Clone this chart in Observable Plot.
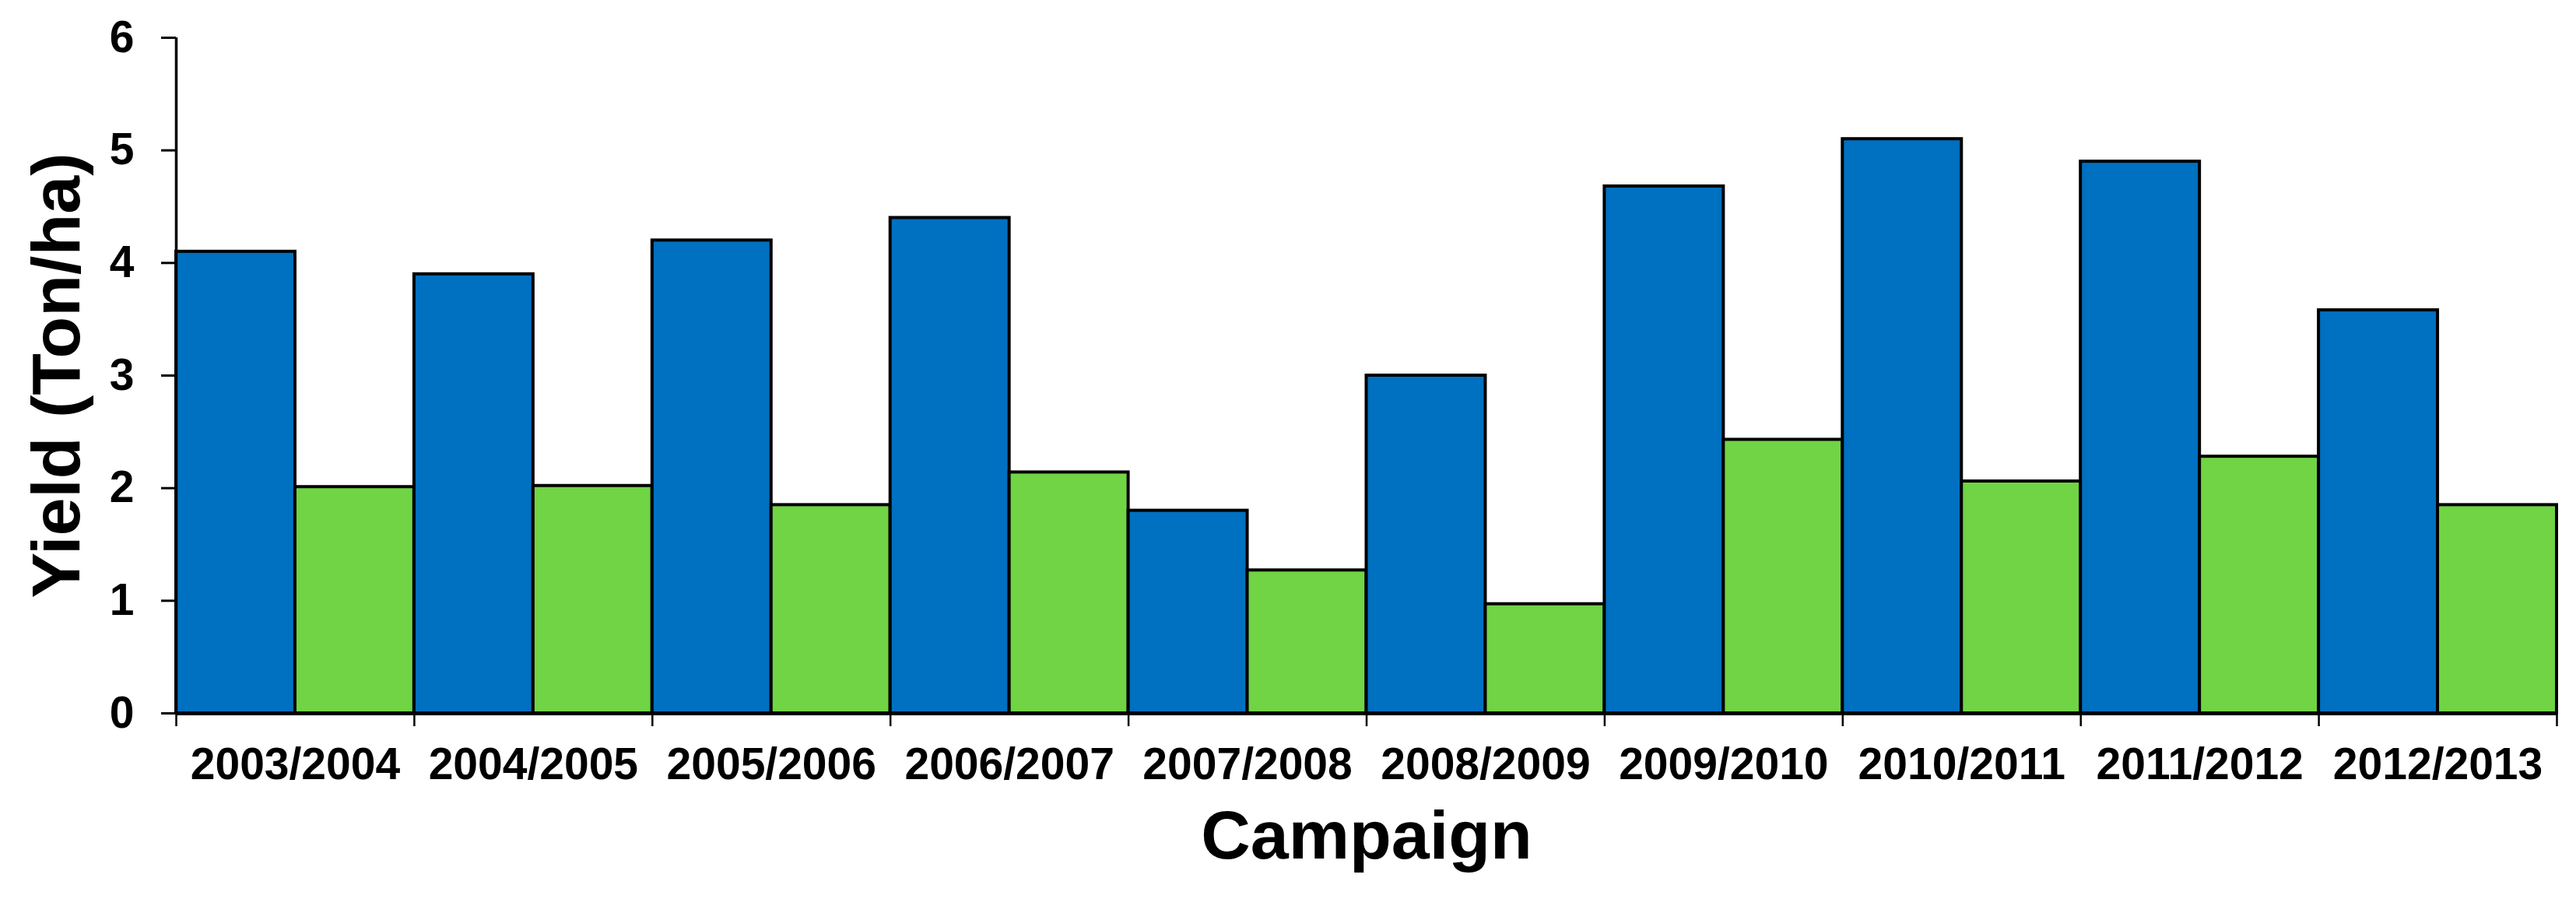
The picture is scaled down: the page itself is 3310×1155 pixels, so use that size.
<!DOCTYPE html>
<html>
<head>
<meta charset="utf-8">
<script src="https://cdn.jsdelivr.net/npm/d3@7"></script>
<script src="https://cdn.jsdelivr.net/npm/@observablehq/plot@0.6"></script>
<style>
  html, body { margin: 0; padding: 0; background: #ffffff; }
  #chart svg { display: block; }
</style>
</head>
<body>
<div id="chart"></div>
<script>
const categories = ["2003/2004", "2004/2005", "2005/2006", "2006/2007", "2007/2008",
                    "2008/2009", "2009/2010", "2010/2011", "2011/2012", "2012/2013"];
const seriesNames = ["Series 1", "Series 2"];
const series1 = [4.1, 3.9, 4.2, 4.4, 1.8, 3.0, 4.68, 5.1, 4.9, 3.58];
const series2 = [2.01, 2.02, 1.85, 2.14, 1.27, 0.97, 2.43, 2.06, 2.28, 1.85];
const yTicks = [0, 1, 2, 3, 4, 5, 6];
const yLabel = "Yield (Ton/ha)";
const xLabel = "Campaign";
const colors = ["#0070C0", "#70D444"];

const values = [series1, series2];
const data = categories.flatMap((c, i) =>
  seriesNames.map((s, k) => ({category: c, index: i, k, series: s, value: values[k][i]}))
);
const boundaries = d3.range(0, categories.length + 1);
const centers = categories.map((c, i) => i + 0.5);

const chart = Plot.plot({
  width: 3310,
  height: 1155,
  marginLeft: 226,
  marginRight: 25,
  marginTop: 48,
  marginBottom: 239,
  style: {fontFamily: "'Liberation Sans', Arial, sans-serif", fontWeight: "bold", color: "black", background: "white"},
  x: {type: "linear", domain: [0, categories.length]},
  y: {domain: [0, 6]},
  color: {domain: seriesNames, range: colors},
  marks: [
    Plot.rectY(data, {
      x1: d => d.index + d.k / seriesNames.length,
      x2: d => d.index + (d.k + 1) / seriesNames.length,
      y: "value",
      fill: "series",
      stroke: "black",
      strokeWidth: 4
    }),
    Plot.axisY({ticks: yTicks, tickSize: 19, tickPadding: 35, tickFormat: d3.format("d"), strokeWidth: 3, fontSize: 57, fontWeight: "bold", label: null}),
    Plot.axisX({ticks: boundaries, tickSize: 17, tickFormat: () => "", strokeWidth: 2.5, label: null}),
    Plot.axisX({ticks: centers, tickSize: 0, tickPadding: 44, tickFormat: d => categories[Math.floor(d)], fontSize: 57, fontWeight: "bold", label: null}),
    Plot.ruleX([0], {y1: 0, y2: 6, strokeWidth: 3.5}),
    Plot.ruleY([0], {strokeWidth: 5}),
    Plot.text([yLabel], {frameAnchor: "left", dx: -153, rotate: -90, textAnchor: "middle", lineAnchor: "middle", fontSize: 88, fontWeight: "bold"}),
    Plot.text([xLabel], {frameAnchor: "bottom", dy: 158, textAnchor: "middle", lineAnchor: "middle", fontSize: 88, fontWeight: "bold"})
  ]
});
document.getElementById("chart").appendChild(chart);
</script>
</body>
</html>
